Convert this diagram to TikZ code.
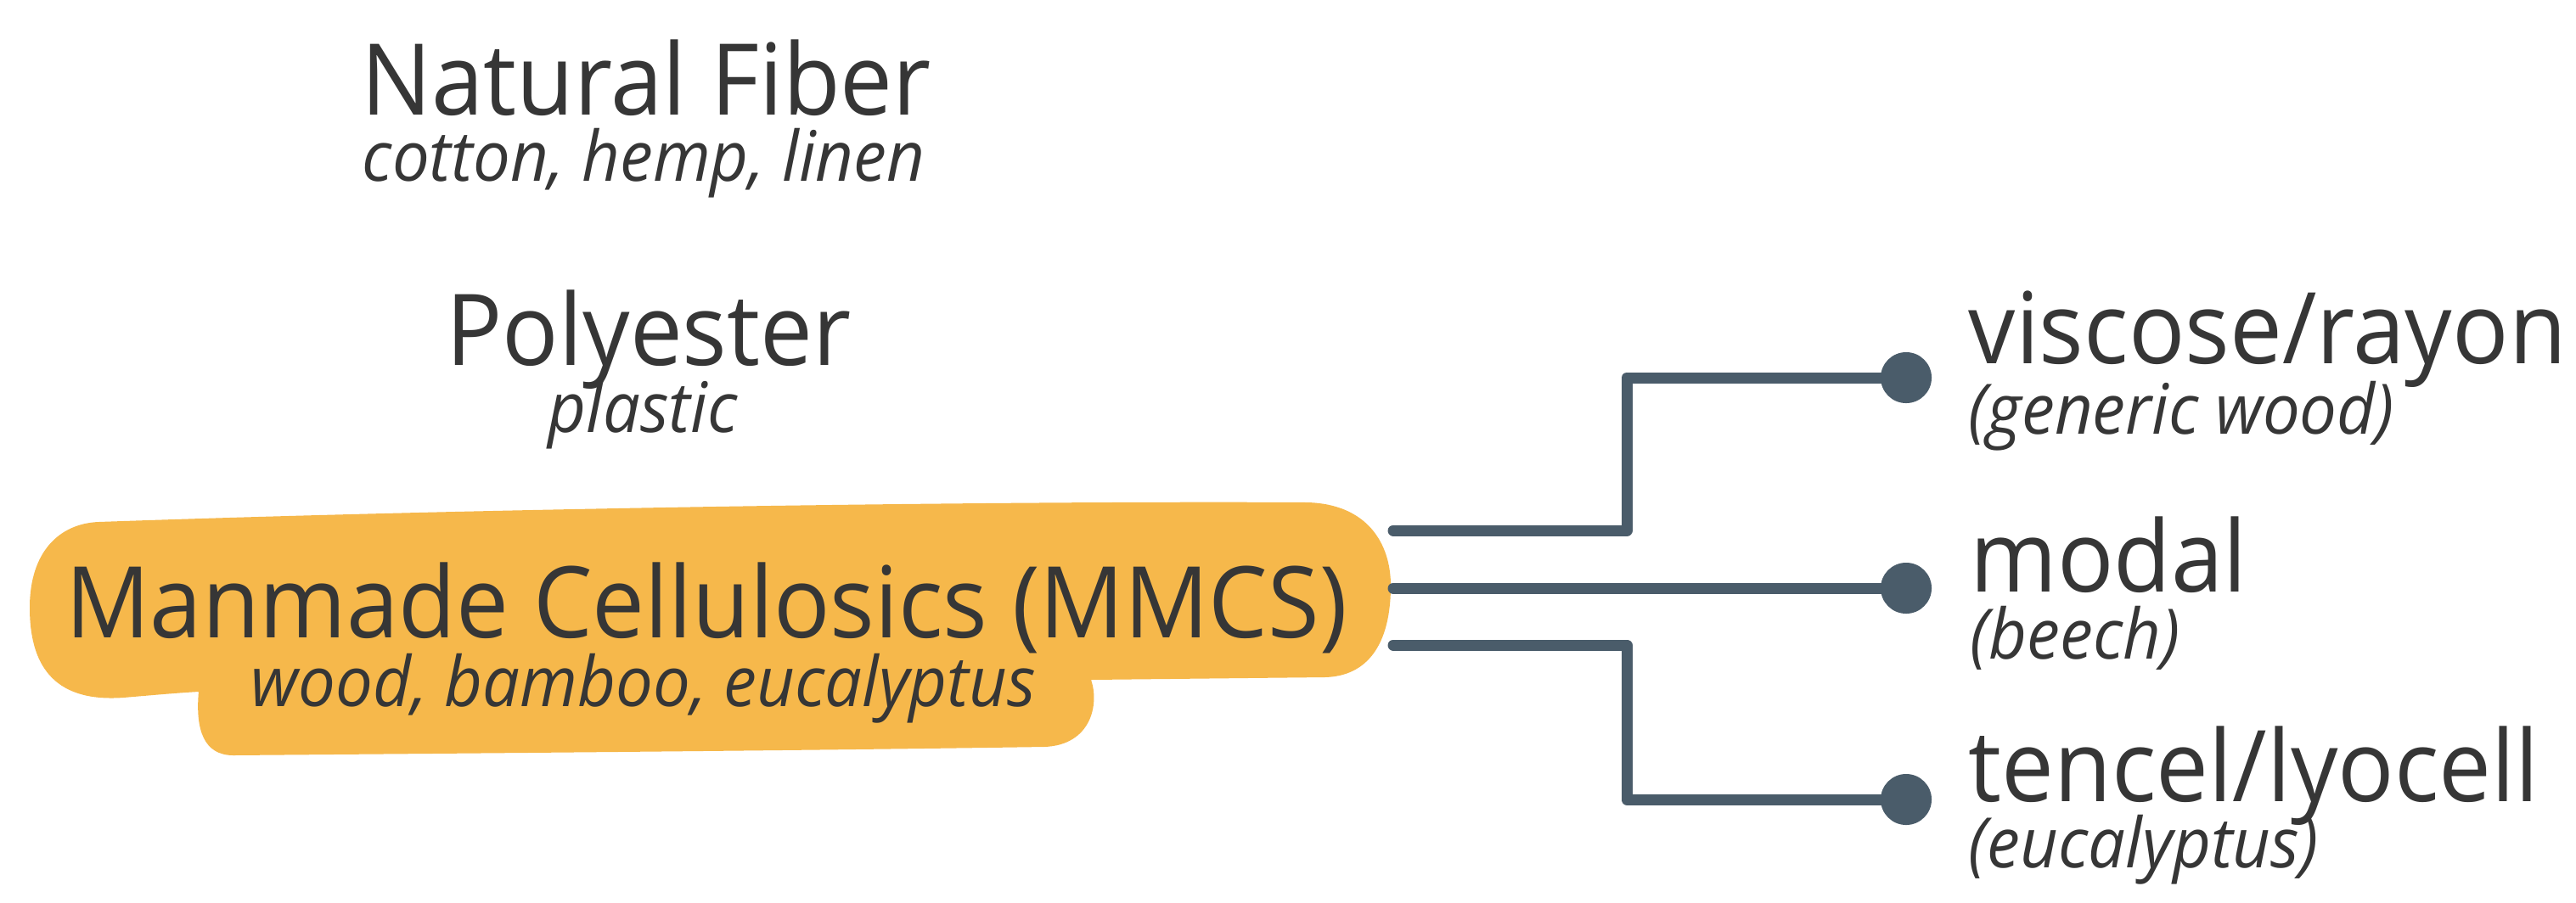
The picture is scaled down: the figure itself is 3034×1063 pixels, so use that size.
\documentclass[tikz,border=0pt]{standalone}
\usepackage{fontspec}
\setmainfont{Open Sans}
\newfontfamily\bigfont{Open Sans}[FakeStretch=0.945]
\newfontfamily\subfont{Open Sans}[FakeStretch=0.95]
\definecolor{txt}{HTML}{363636}
\definecolor{slate}{HTML}{4A5C6A}
\definecolor{blobc}{HTML}{F6B84B}
\begin{document}
\begin{tikzpicture}[x=0.01cm,y=-0.01cm,
  big/.style={text=txt,inner sep=0pt,font=\bigfont\fontsize{33.2pt}{33pt}\selectfont},
  sub/.style={text=txt,inner sep=0pt,font=\subfont\fontsize{23.3pt}{23pt}\selectfont\itshape},
  conn/.style={draw=slate,line width=0.13cm,line cap=round,line join=round},
  dotnode/.style={circle,fill=slate,inner sep=0pt,minimum size=0.6cm}]
\useasboundingbox[fill=white] (0,0) rectangle (3034,1063);
% highlight stroke
\fill[blobc] (116,615) .. controls (600,598) and (1200,590) .. (1540,592)
  .. controls (1610,594) and (1638,640) .. (1638,690)
  .. controls (1638,760) and (1610,797) .. (1560,798)
  -- (1285,801)
  .. controls (1295,830) and (1285,878) .. (1230,880)
  .. controls (900,885) and (500,888) .. (275,890)
  .. controls (240,890) and (230,860) .. (234,815)
  .. controls (200,817) and (170,820) .. (145,822)
  .. controls (60,828) and (35,780) .. (35,716)
  .. controls (35,650) and (70,617) .. (116,615) -- cycle;
% left texts
\node[big,anchor=base] (nat) at (761,135) {Natural Fiber};
\node[sub,anchor=base] (natsub) at (758,213) {cotton, hemp, linen};
\node[big,anchor=base] (poly) at (764,430) {Polyester};
\node[sub,anchor=base] (polysub) at (757,509) {plastic};
\node[big,anchor=base] (mmcs) at (832,751) {Manmade Cellulosics (MMCS)};
\node[sub,anchor=base] (mmcssub) at (758,832) {wood, bamboo, eucalyptus};
% right texts
\node[big,anchor=base west] (visc) at (2318,428) {viscose/rayon};
\node[sub,anchor=base west] (viscsub) at (2318,511) {(generic wood)};
\node[big,anchor=base west] (modal) at (2320,697) {modal};
\node[sub,anchor=base west] (modalsub) at (2320,776) {(beech)};
\node[big,anchor=base west] (tencel) at (2318,944) {tencel/lyocell};
\node[sub,anchor=base west] (tencelsub) at (2318,1022) {(eucalyptus)};
% connector ends
\coordinate (s1) at (1641,625);
\coordinate (s2) at (1641,693);
\coordinate (s3) at (1641,760);
\coordinate (bx) at (1916,693);
\node[dotnode] (d1) at (2245,445) {};
\node[dotnode] (d2) at (2245,693) {};
\node[dotnode] (d3) at (2245,942) {};
\draw[conn] (s1) -| (bx |- d1) -- (d1.center);
\draw[conn] (s2) -- (d2.center);
\draw[conn] (s3) -| (bx |- d3) -- (d3.center);
\end{tikzpicture}
\end{document}
